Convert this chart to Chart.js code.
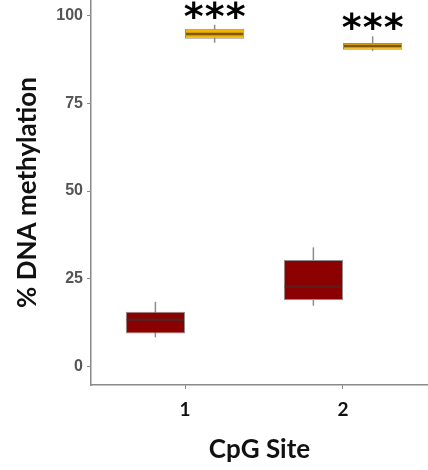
<!DOCTYPE html>
<html>
<head>
<meta charset="utf-8">
<style>
  html, body { margin: 0; padding: 0; background: #ffffff; }
  #wrap { width: 428px; height: 470px; position: relative; }
</style>
<script src="https://cdn.jsdelivr.net/npm/chart.js@4.4.1/dist/chart.umd.min.js"></script>
</head>
<body>
<div id="wrap"><canvas id="chart" width="428" height="470"></canvas></div>
<script>
// CpG sites on the x axis
const sites = [1, 2];
const yTicks = [0, 25, 50, 75, 100];

// Box-plot summaries per group: whisker low, Q1, median, Q3, whisker high
const lowLo  = [8.4, 17.4];
const lowQ1  = [9.5, 19.0];
const lowMed = [13.4, 22.8];
const lowQ3  = [15.7, 30.4];
const lowHi  = [18.5, 34.0];

const highLo  = [92.2, 89.9];
const highQ1  = [93.3, 90.2];
const highMed = [94.7, 91.3];
const highQ3  = [96.2, 92.1];
const highHi  = [97.3, 94.0];

// Significance marks above the high-methylation boxes
const sigLabels = ['***', '***'];

const groups = [
  { name: 'low',  lo: lowLo,  q1: lowQ1,  med: lowMed,  q3: lowQ3,  hi: lowHi,
    fill: '#8b0000', medColor: '#5a1e1e' },
  { name: 'high', lo: highLo, q1: highQ1, med: highMed, q3: highQ3, hi: highHi,
    fill: '#f2b200', medColor: '#7a5806' }
];

const datasets = groups.map(g => ({
  label: g.name,
  data: sites.map((s, i) => ({ x: s, y: [g.q1[i], g.q3[i]] })),
  backgroundColor: g.fill,
  borderColor: '#8f8f8f',
  borderWidth: 1,
  borderSkipped: false,
  categoryPercentage: 0.75,
  barPercentage: 1.0
}));

// Whiskers (under the boxes), medians and significance marks (over them)
const boxParts = {
  id: 'boxParts',
  beforeDatasetsDraw(chart) {
    const ctx = chart.ctx, y = chart.scales.y;
    groups.forEach((g, di) => {
      const meta = chart.getDatasetMeta(di);
      meta.data.forEach((bar, i) => {
        ctx.save();
        ctx.strokeStyle = '#8c8c8c';
        ctx.lineWidth = 1.5;
        ctx.beginPath();
        ctx.moveTo(bar.x, y.getPixelForValue(g.lo[i]));
        ctx.lineTo(bar.x, y.getPixelForValue(g.hi[i]));
        ctx.stroke();
        ctx.restore();
      });
    });
  },
  afterDatasetsDraw(chart) {
    const ctx = chart.ctx, y = chart.scales.y;
    groups.forEach((g, di) => {
      const meta = chart.getDatasetMeta(di);
      meta.data.forEach((bar, i) => {
        const py = y.getPixelForValue(g.med[i]);
        ctx.save();
        ctx.strokeStyle = g.medColor;
        ctx.lineWidth = 2.5;
        ctx.beginPath();
        ctx.moveTo(bar.x - bar.width / 2 + 1, py);
        ctx.lineTo(bar.x + bar.width / 2 - 1, py);
        ctx.stroke();
        ctx.restore();
      });
    });
    // stars centred over the high group's boxes, a fixed gap above the whisker
    const meta = chart.getDatasetMeta(1);
    meta.data.forEach((bar, i) => {
      const cy = y.getPixelForValue(highHi[i]) - 15;
      const chars = sigLabels[i].split('');
      const gap = 21;
      ctx.save();
      ctx.fillStyle = '#000000';
      ctx.font = 'bold 38px "DejaVu Sans"';
      ctx.textAlign = 'center';
      ctx.textBaseline = 'alphabetic';
      chars.forEach((c, k) => {
        const m = ctx.measureText(c);
        const by = cy + (m.actualBoundingBoxAscent - m.actualBoundingBoxDescent) / 2;
        const cx = bar.x + (k - (chars.length - 1) / 2) * gap;
        ctx.fillText(c, cx, by);
      });
      ctx.restore();
    });
  }
};

new Chart(document.getElementById('chart'), {
  type: 'bar',
  data: { datasets },
  options: {
    responsive: false,
    animation: false,
    layout: { padding: 0 },
    plugins: { legend: { display: false }, tooltip: { enabled: false } },
    scales: {
      x: {
        type: 'linear',
        offset: false,
        min: 0.405,
        max: 2.538,
        afterBuildTicks: s => { s.ticks = sites.map(v => ({ value: v })); },
        afterFit: s => {
          s.height = 85;
          s.paddingLeft = 0; s.paddingRight = 0;
        },
        grid: { offset: false, drawOnChartArea: false, drawTicks: true, tickLength: 4, color: '#8a8a8a', lineWidth: 1 },
        border: { display: true, color: '#8a8a8a', width: 1.5 },
        ticks: {
          padding: 9,
          color: '#111111',
          font: { family: 'Lato', size: 19, weight: 'bold' },
          callback: v => String(v)
        },
        title: {
          display: true,
          text: 'CpG Site',
          color: '#111111',
          font: { family: 'Lato', size: 26, weight: 'bold' },
          padding: { top: 0, bottom: 5 }
        }
      },
      y: {
        type: 'linear',
        min: -5.15,
        max: 104.35,
        afterBuildTicks: s => { s.ticks = yTicks.map(v => ({ value: v })); },
        afterFit: s => {
          s.width = 91;
          s.paddingTop = 0; s.paddingBottom = 0;
        },
        grid: { drawOnChartArea: false, drawTicks: true, tickLength: 4, color: '#8a8a8a', lineWidth: 1 },
        border: { display: true, color: '#8a8a8a', width: 1.5 },
        ticks: {
          padding: 4,
          color: '#555555',
          font: { family: 'Liberation Sans', size: 16, weight: 'bold' },
          callback: v => String(v)
        },
        title: {
          display: true,
          text: '% DNA methylation',
          color: '#111111',
          font: { family: 'Lato', size: 26, weight: 'bold' },
          padding: { top: 12, bottom: 0 }
        }
      }
    }
  },
  plugins: [boxParts]
});
</script>
</body>
</html>
